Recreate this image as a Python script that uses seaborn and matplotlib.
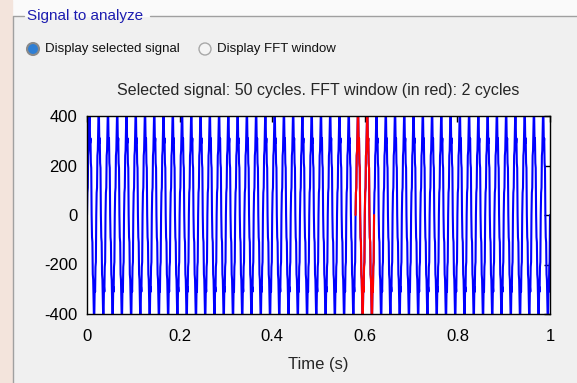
import numpy as np
import pandas as pd
import matplotlib
matplotlib.use('Agg')
import matplotlib.pyplot as plt
import seaborn as sns
from matplotlib.patches import Circle, Rectangle

cycle_values = [0, 90, 110, 240, 260, 330, 420, 400, 290, 310, 210, 190,
                0, -90, -110, -240, -260, -330, -420, -400, -290, -310, -210, -190]
n_cycles = 50
signal_freq = 50.0
fft_start = 0.58
fft_cycles = 2
x_ticks = [0, 0.2, 0.4, 0.6, 0.8, 1]
x_tick_labels = ['0', '0.2', '0.4', '0.6', '0.8', '1']
y_ticks = [-400, -200, 0, 200, 400]

fs = signal_freq * len(cycle_values)
values = np.tile(cycle_values, n_cycles)
values = np.append(values, values[0])
time = np.arange(len(values)) / fs
df = pd.DataFrame({'time': time, 'signal': values})
fft_end = fft_start + fft_cycles / signal_freq
win = df[(df.time >= fft_start - 1e-9) & (df.time <= fft_end + 1e-9)]

sns.set_style('white')
plt.rcParams['font.family'] = ['Liberation Sans', 'DejaVu Sans']
plt.rcParams['axes.unicode_minus'] = False

fig = plt.figure(figsize=(5.77, 3.83), dpi=100)
fig.patch.set_facecolor('#f0f0f0')

# GUI panel drawn in pixel coordinates
gui = fig.add_axes([0, 0, 1, 1])
gui.set_xlim(0, 577)
gui.set_ylim(383, 0)
gui.axis('off')
gui.add_patch(Rectangle((0, 0), 577, 16, color='#fafafa', zorder=0))
gui.add_patch(Rectangle((0, 0), 12, 383, color='#f3e4dc', zorder=0))
gui.plot([13, 13, 24], [383, 16, 16], color='#a0a0a0', lw=1)
gui.plot([150, 577], [16, 16], color='#a0a0a0', lw=1)
gui.text(27, 16, 'Signal to analyze', color='#1c1cb0', fontsize=11, va='center', ha='left')
gui.add_patch(Circle((33, 49), 6, facecolor='#2f7fd4', edgecolor='#8a8a8a', lw=1.5))
gui.add_patch(Circle((205, 49), 6, facecolor='#f4f4f4', edgecolor='#a8a8a8', lw=1))
gui.text(45, 49, 'Display selected signal', fontsize=9.5, va='center', ha='left', color='#111111')
gui.text(217, 49, 'Display FFT window', fontsize=9.5, va='center', ha='left', color='#111111')

ax = fig.add_axes([87 / 577, 1 - 314 / 383, 463 / 577, 198 / 383])
ax.set_facecolor('white')
sns.lineplot(data=df, x='time', y='signal', color='blue', linewidth=1.5, ax=ax, sort=False)
sns.lineplot(data=win, x='time', y='signal', color='red', linewidth=1.5, ax=ax, sort=False)

ax.set_xlim(0, 1)
ax.set_ylim(-400, 400)
ax.set_xticks(x_ticks)
ax.set_xticklabels(x_tick_labels)
ax.set_yticks(y_ticks)
ax.tick_params(direction='in', length=4, width=1, top=True, right=True,
               labelsize=12, colors='black')
ax.tick_params(axis='x', pad=11)
ax.tick_params(axis='y', pad=7)
for s in ax.spines.values():
    s.set_color('black')
    s.set_linewidth(1)
ax.set_title('Selected signal: 50 cycles. FFT window (in red): 2 cycles', fontsize=11.5, pad=15)
ax.set_xlabel('Time (s)', fontsize=12, labelpad=9)
ax.set_ylabel('')

plt.savefig('out.png', dpi=100, facecolor=fig.get_facecolor())
